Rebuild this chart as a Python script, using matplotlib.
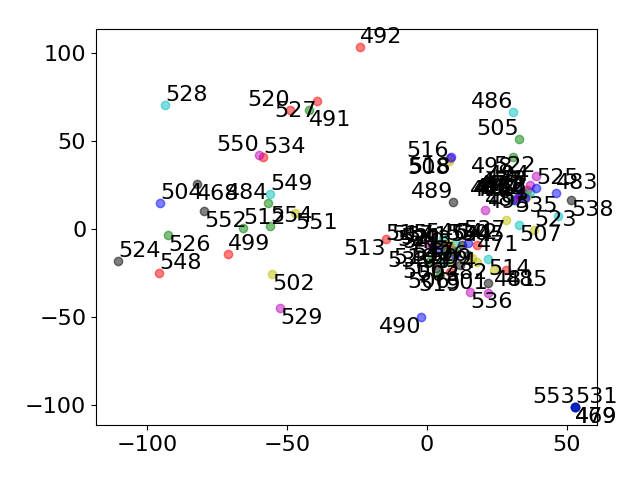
import matplotlib
matplotlib.use("Agg")
import matplotlib.pyplot as plt

labels = list(range(468, 555))
xs = [-82.1, 52.9, 30.4, 17.9, 31.8, 35.0, 17.9, 33.2, 31.4, 34.3, 35.7, 52.9, 32.5, 23.9, 21.8, 46.1, -56.8, 28.2, 30.7, 20.7, 35.7, 9.3, -2.1, -42.1, -23.9, 36.8, 36.8, 8.6, 14.6, 33.2, 30.7, -71.1, 6.4, 21.8, -55.4, 11.8, -95.4, 32.9, 8.2, 32.9, 8.2, 16.1, 3.2, 10.0, -65.7, -14.6, 21.8, 0.4, 7.9, 2.5, 8.6, 4.6, -48.9, 5.7, 38.9, 38.2, -110.4, 38.9, -92.5, -39.3, -93.6, -52.5, 6.8, 52.9, 35.0, 1.1, -58.6, 46.8, 15.4, 28.2, 51.4, 4.6, 6.4, 7.9, 10.0, 8.9, 8.2, 12.5, 14.6, 10.0, -95.7, -56.1, -60.0, -47.1, -79.6, 52.9, -56.1]
ys = [25.6, -101.1, 16.5, -9.1, 17.6, 18.8, -18.8, 19.3, 16.5, 21.0, 22.2, -101.1, 17.6, -23.3, -30.7, 20.5, 14.8, -23.3, 66.5, 10.8, 18.8, 15.3, -50.0, 67.6, 103.4, 21.0, 25.0, -18.8, -14.8, 22.2, 40.9, -14.2, -18.8, -36.4, -25.6, -20.5, 14.8, 51.1, -24.4, 2.3, 40.3, -16.5, -22.2, -14.8, 0.6, -5.7, -17.0, -8.5, 38.6, -9.1, 40.9, -26.1, 67.6, -5.1, 30.1, -0.6, -18.2, 23.3, -3.4, 72.7, 70.5, -44.9, -8.5, -101.1, 17.6, -18.2, 40.9, 7.4, -35.8, 5.1, 16.5, -11.9, -13.1, -9.7, -8.0, -11.9, -9.1, -9.1, -8.0, -13.1, -25.0, 19.9, 42.0, 9.1, 10.2, -101.1, 1.7]
anchors = ("lt lt rb lc rb rb rc rb rb rb rb lt rb lt rb lb rb lt rb lb rb rb rt lt lb rt rb rc rc rc rt lb rt rb lt rt lb rb rt lt rt rc rb rc lb rt lt rb rb rb rt ct rb rc rb lb lb lb lt rt lb lt lb lb rb rc lb rb lt rt lt rb rb rb lb rb lb lb rb rc lb lb rb lt lt rb lb").split()
palette = ["b", "g", "r", "c", "m", "y", "k"]

HA = {"l": "left", "r": "right", "c": "center"}
VA = {"t": "top", "b": "bottom", "c": "center"}

plt.rcParams["font.size"] = 16
fig = plt.figure(figsize=(6.4, 4.8), dpi=100)
ax = fig.add_axes([96 / 640, 55 / 480, 501 / 640, 396 / 480])
for n, x, y, a in zip(labels, xs, ys, anchors):
    ax.scatter(x, y, color=palette[n % 7], alpha=0.5, s=36)
    ax.text(x, y, str(n), ha=HA[a[0]], va=VA[a[1]], fontsize=16)
ax.set_xlim(-118.2, 60.7)
ax.set_ylim(-111.4, 113.6)
ax.set_xticks([-100, -50, 0, 50])
ax.set_yticks([-100, -50, 0, 50, 100])
fig.savefig("out.png", dpi=100)
